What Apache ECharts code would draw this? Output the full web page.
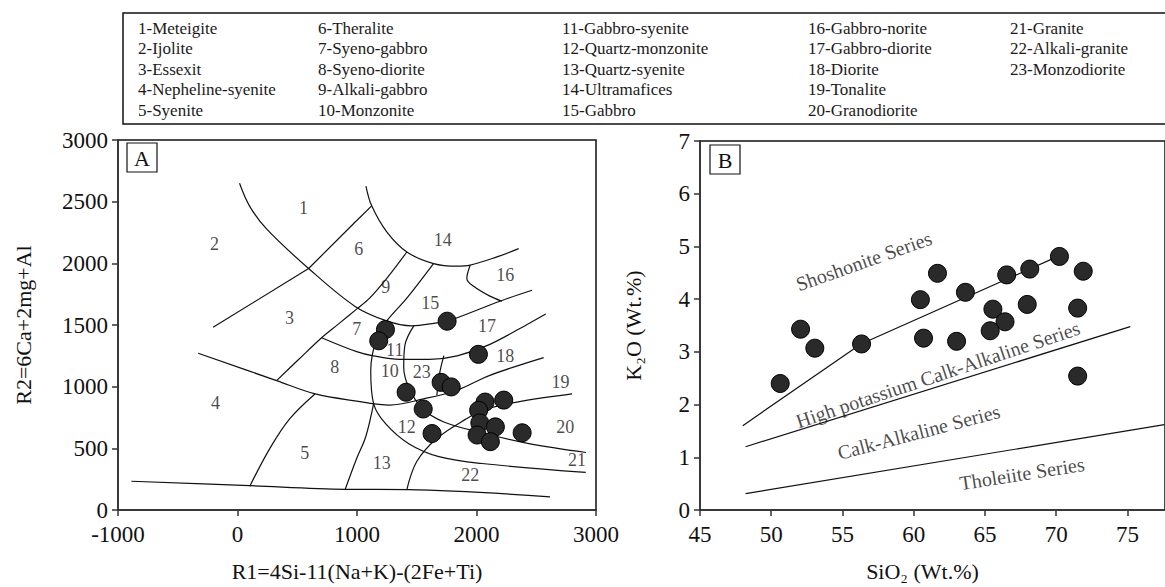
<!DOCTYPE html>
<html lang="en">
<head>
    <meta charset="UTF-8">
    <title>R1-R2 and SiO2-K2O diagrams</title>
    <style>
        html, body { margin: 0; padding: 0; background: #fff; }
        #chart { width: 1165px; height: 587px; }
    </style>
</head>
<body>
    <div id="chart"></div>
    <script src="https://cdn.jsdelivr.net/npm/echarts@6/dist/echarts.min.js"></script>
    <script>
        var font = "'Liberation Serif', 'Times New Roman', serif";

        // legend box texts (5 columns)
        var legendCols = [
            ['1-Meteigite', '2-Ijolite', '3-Essexit', '4-Nepheline-syenite', '5-Syenite'],
            ['6-Theralite', '7-Syeno-gabbro', '8-Syeno-diorite', '9-Alkali-gabbro', '10-Monzonite'],
            ['11-Gabbro-syenite', '12-Quartz-monzonite', '13-Quartz-syenite', '14-Ultramafices', '15-Gabbro'],
            ['16-Gabbro-norite', '17-Gabbro-diorite', '18-Diorite', '19-Tonalite', '20-Granodiorite'],
            ['21-Granite', '22-Alkali-granite', '23-Monzodiorite']
        ];

        // panel A : R1-R2 field boundaries
        var bndA = [
            [[17, 2649], [101, 2464], [243, 2279], [595, 1958], [981, 1653], [1249, 1533], [1458, 1493], [1668, 1517], [1769, 1535], [2196, 1693], [2464, 1782]],
            [[1075, 2627], [1123, 2466], [1249, 2255], [1417, 2092], [1640, 1998], [1836, 1977], [1947, 1985], [2171, 2052], [2353, 2119]],
            [[1947, 1985], [1919, 1878], [1976, 1814], [2112, 1734], [2213, 1693]],
            [[1417, 2092], [1249, 1878], [1106, 1718], [997, 1629], [846, 1509], [704, 1397], [511, 1220], [327, 1049]],
            [[704, 1397], [997, 1284], [1137, 1250], [1358, 1222], [1609, 1222], [1838, 1250], [2112, 1343], [2447, 1517], [2579, 1589]],
            [[-329, 1271], [327, 1049], [651, 941], [997, 883], [1274, 851], [1557, 901], [1836, 971], [2112, 1092], [2562, 1236]],
            [[1475, 1493], [1400, 1332], [1391, 1156], [1433, 995], [1542, 827], [1727, 714], [2079, 618], [2439, 538], [2917, 466]],
            [[1640, 1998], [1417, 1718], [1249, 1533], [1165, 1397], [1115, 1132], [1140, 859], [1241, 698], [1433, 538], [1685, 433], [2045, 377], [2914, 305]],
            [[1140, 867], [1073, 594], [997, 417], [901, 166]],
            [[1417, 165], [1500, 393], [1668, 580], [1919, 741], [2059, 811], [2339, 875], [2800, 941]],
            [[-888, 233], [100, 197], [900, 168], [1430, 165], [2615, 107]],
            [[648, 941], [438, 741], [271, 500], [103, 193]],
            [[1727, 1252], [1693, 1116], [1668, 929]]
        ];
        // straight (kinked) boundary 2/3 - 1/6
        var bndA2 = [[-204, 1482], [595, 1958], [983, 2333], [1123, 2466]];

        var fieldNo = ['1', '2', '3', '4', '5', '6', '7', '8', '9', '10', '11', '12', '13', '14', '15', '16', '17', '18', '19', '20', '21', '22', '23'];
        var fieldPos = [[553, 2448], [-193, 2159], [436, 1557], [-184, 867], [562, 466], [1014, 2119], [997, 1469], [813, 1156], [1241, 1806],
            [1274, 1130], [1316, 1295], [1417, 674], [1207, 380], [1718, 2191], [1612, 1677], [2241, 1905], [2087, 1493], [2241, 1250],
            [2702, 1035], [2743, 674], [2842, 407], [1947, 287], [1542, 1116]];

        var samplesA = [[1238, 1463], [1182, 1372], [1754, 1531], [2016, 1262], [1411, 955], [1704, 1035], [1788, 998], [1554, 819],
            [1628, 620], [2072, 875], [2228, 891], [2018, 808], [2028, 706], [2158, 674], [2005, 608], [2116, 554], [2382, 626]];

        // panel B : SiO2-K2O
        var shoLine = [[48, 1.6], [56.3, 3.15], [70.2, 4.82]];
        var hkLine = [[48.2, 1.2], [75.2, 3.48]];
        var thLine = [[48.2, 0.31], [77.6, 1.62]];
        var seriesText = ['Shoshonite Series', 'High potassium Calk-Alkaline Series', 'Calk-Alkaline Series', 'Tholeiite Series'];
        var seriesTextPos = [[56.5, 4.72], [61.7, 2.57], [60.35, 1.48], [67.6, 0.69]];
        var seriesTextAngle = [19.5, 18.5, 14.7, 8.9];

        var samplesB = [[50.63, 2.40], [52.06, 3.43], [53.06, 3.07], [56.34, 3.15], [60.47, 3.99], [60.69, 3.26], [61.67, 4.49], [63.63, 4.13],
            [66.53, 4.46], [68.15, 4.57], [70.23, 4.81], [71.90, 4.53], [65.56, 3.81], [66.41, 3.57], [65.37, 3.40], [67.97, 3.90],
            [71.51, 3.83], [63.01, 3.20], [71.51, 2.54]];

        var chart = echarts.init(document.getElementById('chart'), null, { renderer: 'svg' });

        var tickLabel = {
            fontFamily: font, fontSize: 23, color: '#111', margin: 10,
            formatter: function (v) { return String(v); }
        };
        var axisLine = { onZero: false, lineStyle: { color: '#333', width: 1.5 } };
        var axisTick = { length: 6, lineStyle: { color: '#333', width: 1.5 } };

        var series = [];
        function addLine(pts, xi, smooth) {
            series.push({
                type: 'line', xAxisIndex: xi, yAxisIndex: xi, data: pts, symbol: 'none', smooth: smooth,
                lineStyle: { color: '#111', width: 1.2 }, silent: true, z: 2
            });
        }
        bndA.forEach(function (b) { addLine(b, 0, 0.35); });
        addLine(bndA2, 0, false);
        addLine(shoLine, 1, false);
        addLine(hkLine, 1, false);
        addLine(thLine, 1, false);

        var dotStyle = { color: '#2a2a2a', borderColor: '#000', borderWidth: 1, opacity: 1 };
        series.push({ type: 'scatter', xAxisIndex: 0, yAxisIndex: 0, data: samplesA, symbolSize: 18, itemStyle: dotStyle, z: 5 });
        series.push({ type: 'scatter', xAxisIndex: 1, yAxisIndex: 1, data: samplesB, symbolSize: 18, itemStyle: dotStyle, z: 5 });

        // text-only markers: no symbol, plain dark labels
        var plainLabel = { show: true, position: 'inside', formatter: '{b}', fontFamily: font, color: '#1a1a1a', textBorderWidth: 0, textBorderColor: 'transparent' };
        series.push({
            type: 'scatter', xAxisIndex: 0, yAxisIndex: 0, symbolSize: 0, z: 4,
            itemStyle: { color: '#1a1a1a' },
            data: fieldNo.map(function (n, i) { return { name: n, value: fieldPos[i] }; }),
            label: Object.assign({ fontSize: 18 }, plainLabel)
        });
        series.push({
            type: 'scatter', xAxisIndex: 1, yAxisIndex: 1, symbolSize: 0, z: 4,
            itemStyle: { color: '#1a1a1a' },
            data: seriesText.map(function (t, i) {
                return { name: t, value: seriesTextPos[i], label: { rotate: seriesTextAngle[i] } };
            }),
            label: Object.assign({ fontSize: 20 }, plainLabel)
        });

        // legend box graphics
        var legendX = [138, 318, 562, 808, 1010];
        var graphic = [{
            type: 'rect', shape: { x: 123, y: 13, width: 1060, height: 111 },
            style: { fill: 'none', stroke: '#111', lineWidth: 1.5 }
        }];
        legendCols.forEach(function (col, c) {
            col.forEach(function (t, r) {
                graphic.push({
                    type: 'text', x: legendX[c], y: 28 + r * 20.5,
                    style: { text: t, font: '17px ' + font, fill: '#1a1a1a', textVerticalAlign: 'middle' }
                });
            });
        });
        [['A', 127, 143], ['B', 710, 145]].forEach(function (p) {
            graphic.push({
                type: 'rect', shape: { x: p[1], y: p[2], width: 30, height: 29 },
                style: { fill: '#fff', stroke: '#111', lineWidth: 1.2 }, z: 10
            });
            graphic.push({
                type: 'text', x: p[1] + 15, y: p[2] + 15,
                style: { text: p[0], font: '22px ' + font, fill: '#111', textAlign: 'center', textVerticalAlign: 'middle' }, z: 11
            });
        });

        var option = {
            animation: false,
            backgroundColor: '#fff',
            grid: [
                { left: 118, top: 140, width: 478, height: 374, show: true, borderColor: '#111', borderWidth: 1.5 },
                { left: 700, top: 141, width: 470, height: 373, show: true, borderColor: '#111', borderWidth: 1.5 }
            ],
            xAxis: [
                {
                    gridIndex: 0, type: 'value', min: -1000, max: 3000, interval: 1000,
                    name: 'R1=4Si-11(Na+K)-(2Fe+Ti)', nameLocation: 'middle', nameGap: 50,
                    nameTextStyle: { fontFamily: font, fontSize: 22, color: '#111' },
                    axisLine: axisLine, axisTick: axisTick, splitLine: { show: false },
                    axisLabel: Object.assign({}, tickLabel, { margin: 13 })
                },
                {
                    gridIndex: 1, type: 'value', min: 45, max: 77.64, interval: 5,
                    name: 'SiO₂ (Wt.%)', nameLocation: 'middle', nameGap: 50,
                    nameTextStyle: { fontFamily: font, fontSize: 22, color: '#111', padding: [0, 20, 0, 0] },
                    axisLine: axisLine, axisTick: axisTick, splitLine: { show: false },
                    axisLabel: Object.assign({}, tickLabel, { margin: 13, showMaxLabel: false })
                }
            ],
            yAxis: [
                {
                    gridIndex: 0, type: 'value', min: 0, max: 3000, interval: 500,
                    name: 'R2=6Ca+2mg+Al', nameLocation: 'middle', nameGap: 84,
                    nameTextStyle: { fontFamily: font, fontSize: 22, color: '#111' },
                    axisLine: axisLine, axisTick: axisTick, axisLabel: tickLabel, splitLine: { show: false }
                },
                {
                    gridIndex: 1, type: 'value', min: 0, max: 7, interval: 1,
                    name: 'K₂O (Wt.%)', nameLocation: 'middle', nameGap: 56,
                    nameTextStyle: { fontFamily: font, fontSize: 22, color: '#111' },
                    axisLine: axisLine, axisTick: axisTick, axisLabel: tickLabel, splitLine: { show: false }
                }
            ],
            graphic: graphic,
            series: series
        };
        chart.setOption(option);
    </script>
</body>
</html>
